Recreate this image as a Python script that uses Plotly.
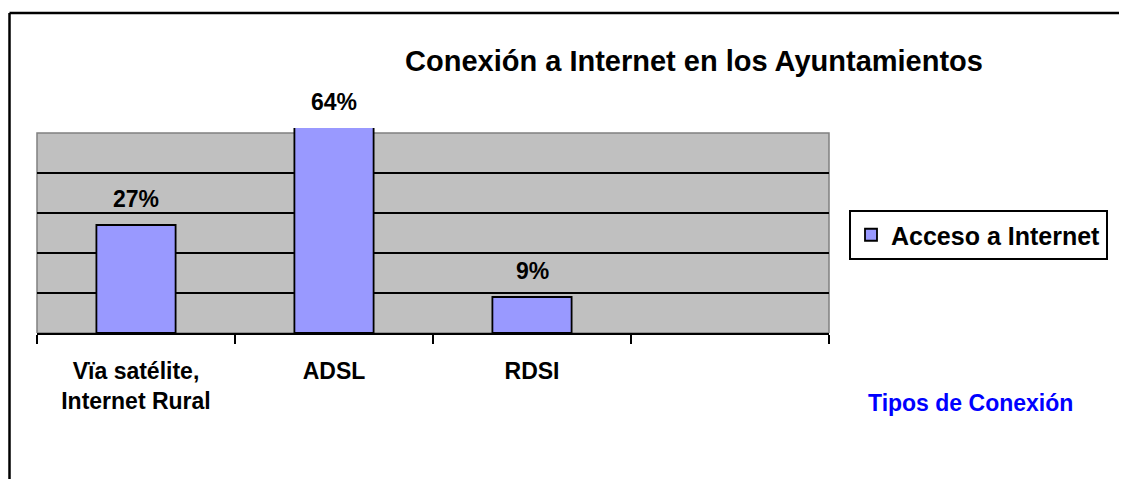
import plotly.graph_objects as go

# ---- data ----
categories = ["Vïa satélite,<br>Internet Rural", "ADSL", "RDSI"]
empty_slot = " "
values = [27, 64, 9]
value_labels = ["27%", "64%", "9%"]
series_name = "Acceso a Internet"
title_text = "Conexión a Internet en los Ayuntamientos"
axis_title = "Tipos de Conexión"
grid_vals = [10, 20, 30, 40]
gray_top = 50
y_max = 51.25

FONT = "Liberation Sans, Arial, sans-serif"
# page has an 8px body margin; work in reference-pixel coordinates shifted by it
OFF = 8
W, H = 1127 - 2 * OFF, 487 - 2 * OFF
L = 37 - OFF
T = 128 - OFF
pw = 792
ph = 205
R = W - L - pw
B = H - T - ph


def px_x(px):
    return (px - OFF - L) / pw


def px_y(py):
    return (T + ph - (py - OFF)) / ph


fig = go.Figure()
fig.add_trace(go.Bar(
    x=categories, y=values, name="<b>%s</b>" % series_name,
    marker=dict(color="#9999FF", line=dict(color="black", width=1.8)),
    width=0.4, showlegend=True,
))

# gray plot background up to 50%
fig.add_shape(type="rect", xref="paper", yref="y", x0=0, x1=1, y0=0, y1=gray_top,
              fillcolor="#C0C0C0", line=dict(color="#808080", width=1.5), layer="below")

# data labels
for c, v, t in zip(categories, values, value_labels):
    fig.add_annotation(x=c, y=min(v, y_max), text="<b>%s</b>" % t, showarrow=False,
                       yanchor="bottom", yshift=11,
                       font=dict(family=FONT, size=23, color="black"))

fig.add_annotation(xref="paper", yref="paper", x=px_x(970), y=px_y(403),
                   text="<b>%s</b>" % axis_title, showarrow=False,
                   xanchor="center", yanchor="middle",
                   font=dict(family=FONT, size=23, color="#0000FF"))

# outer frame (left + top)
fig.add_shape(type="line", xref="paper", yref="paper", x0=px_x(9.5), x1=px_x(1140),
              y0=px_y(13), y1=px_y(13), line=dict(color="black", width=2.5))
fig.add_shape(type="line", xref="paper", yref="paper", x0=px_x(9.5), x1=px_x(9.5),
              y0=px_y(13), y1=px_y(500), line=dict(color="black", width=2.5))

fig.update_layout(
    width=W, height=H,
    margin=dict(l=L, r=R, t=T, b=B),
    paper_bgcolor="white", plot_bgcolor="rgba(0,0,0,0)",
    title=dict(text="<b>%s</b>" % title_text, xref="container", yref="container",
               x=(694 - OFF) / W, y=1 - (61 - OFF) / H, xanchor="center", yanchor="middle",
               font=dict(family=FONT, size=29, color="black")),
    legend=dict(xref="container", yref="container", x=(849 - OFF) / W,
                y=1 - (210 - OFF) / H,
                xanchor="left", yanchor="top", bordercolor="black", borderwidth=2,
                bgcolor="white",
                font=dict(family=FONT, size=25, color="black")),
    showlegend=True,
    xaxis=dict(type="category", categoryorder="array",
               categoryarray=categories + [empty_slot],
               range=[-0.5, len(categories) + 0.5],
               tickson="boundaries", ticks="outside", ticklen=9, tickwidth=2,
               tickcolor="black", showline=True, linecolor="black", linewidth=2,
               showgrid=False, ticklabelstandoff=16,
               tickfont=dict(family=FONT, size=23, color="black", weight="bold")),
    yaxis=dict(range=[0, y_max], tickmode="array", tickvals=grid_vals,
               showticklabels=False, ticks="", showgrid=True, gridcolor="black",
               gridwidth=2, zeroline=False, showline=False),
)

fig.write_html("out.html")
